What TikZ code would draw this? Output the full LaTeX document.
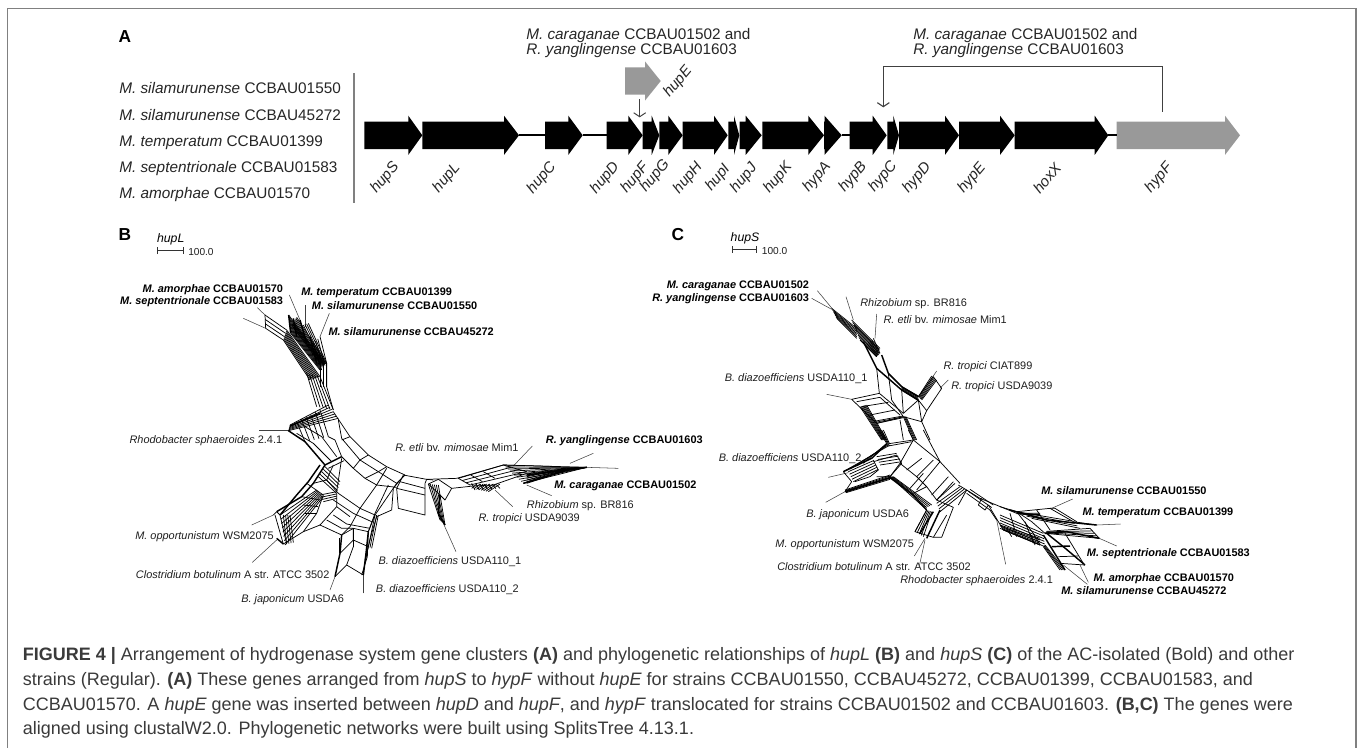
\documentclass[tikz,border=0pt]{standalone}
\usepackage{fontspec}
\setmainfont{Liberation Sans}
\usetikzlibrary{calc,arrows.meta}
\definecolor{framegray}{HTML}{808080}
\definecolor{genegray}{HTML}{999999}
\definecolor{captext}{HTML}{3A3A3A}
\definecolor{linegray}{HTML}{404040}
\tikzset{
  net/.style={line width=0.55pt,black,line join=round},
  netb/.style={line width=1.1pt,black,line join=round},
  lead/.style={line width=0.4pt,black!75},
  lab/.style={font=\fontsize{8.2}{9}\selectfont,inner sep=0pt,text=black!88,text height=5.9pt,text depth=0pt},
  bl/.style={lab,font=\fontsize{8.2}{9}\selectfont\bfseries,text=black},
  big/.style={font=\fontsize{11.5}{13}\selectfont,inner sep=0pt,text=black!85,anchor=west,text height=8.2pt,text depth=0pt},
  panel/.style={font=\fontsize{13}{14}\selectfont\bfseries,inner sep=0pt},
  genelab/.style={font=\fontsize{11.3}{13}\selectfont\itshape,inner sep=0pt,rotate=50,text=black!85},
  link/.style={line width=1.5pt,black},
  capt/.style={font=\fontsize{13.5}{15}\selectfont,inner sep=0pt,anchor=base west,text=captext},
  zoomB/.style={x=0.25pt,y=-0.25pt}
}
\newcommand\gene[6][black]{%
  \coordinate (#2-s) at (#3,#6);
  \coordinate (#2-e) at (#5,#6);
  \fill[#1] (#3,#6-13.7) -- (#4,#6-13.7) -- (#4,#6-19.6) -- (#5,#6) -- (#4,#6+19.6) -- (#4,#6+13.7) -- (#3,#6+13.7) -- cycle;
}
\newcommand\hatch[5]{\foreach \f in {0,...,#5}{\draw[net] ($#1!\f/#5!#3$) -- ($#2!\f/#5!#4$);}}
\newcommand\leader[3]{\path #2 coordinate (#1-a) #3 coordinate (#1-b); \draw[lead] (#1-a) -- (#1-b);}
\begin{document}
\begin{tikzpicture}[x=0.75pt,y=-0.75pt]
\useasboundingbox (0,0) rectangle (1360,747);
\fill[white] (0,0) rectangle (1360,747);
% frame
\draw[framegray,line width=1.1pt] (7.5,748) -- (7.5,8.5) -- (1356,8.5) -- (1356,748);
% panel A
\node[panel] (panelA) at (125,37) {A};
\foreach \n/\y/\a/\b in {s1/88/M. silamurunense/CCBAU01550,s2/115/M. silamurunense/CCBAU45272,s3/141/M. temperatum/CCBAU01399,s4/167/M. septentrionale/CCBAU01583,s5/193/M. amorphae/CCBAU01570}{
  \node[big] (\n) at (119,\y) {\textit{\a} \b};
}
\coordinate (vt) at (354,73); \coordinate (vb) at (354,203);
\draw[framegray,line width=0.8pt] (vt) -- (vb);
% genes
\def\yc{135.3}
\gene{hupS}{364.3}{408.3}{422.3}{\yc}
\gene{hupL}{422.3}{504}{519}{\yc}
\gene{hupC}{545}{568.3}{582.7}{\yc}
\gene{hupD}{606.7}{628.3}{642.7}{\yc}
\gene{hupF}{642.7}{651.7}{659.3}{\yc}
\gene{hupG}{659.3}{668.3}{682.7}{\yc}
\gene{hupH}{682.7}{714}{727.7}{\yc}
\gene{hupI}{728.3}{734}{739.3}{\yc}
\gene{hupJ}{739.7}{745.7}{761.7}{\yc}
\gene{hupK}{762.3}{808.3}{824}{\yc}
\gene{hypA}{824}{824.5}{841.7}{\yc}
\gene{hypB}{849.7}{872.7}{886.7}{\yc}
\gene{hypC}{887.3}{893.3}{899}{\yc}
\gene{hypD}{899}{945}{959}{\yc}
\gene{hypE}{959}{1000}{1014.7}{\yc}
\gene{hoxX}{1014.7}{1094.7}{1108.3}{\yc}
\gene[genegray]{hypF}{1116.7}{1225}{1240}{\yc}
\gene[genegray]{hupE}{625}{645}{660.7}{81}
\draw[link] (hupL-e) -- (hupC-s);
\draw[link] (hupC-e) -- (hupD-s);
\draw[link] (hypA-e) -- (hypB-s);
\draw[link] (hoxX-e) -- (hypF-s);
\foreach \g/\x/\y/\t in {lS/385/178/hupS,lL/446.7/178/hupL,lC/541.7/178/hupC,lD/605/178/hupD,lF/635/178/hupF,lG/655/176/hupG,lH/688/178/hupH,lI/718/178/hupI,lJ/744/178/hupJ,lK/778/178/hupK,lA/817/177/hypA,lB/853/177/hypB,lCc/883/177/hypC,lDd/917/178/hypD,lEe/972/178/hypE,lX/1047/178/hoxX,lFf/1159/178/hypF,lE/678/82/hupE}{
  \node[genelab] (\g) at (\x,\y) {\t};
}
\node[font=\fontsize{11.5}{11.7}\selectfont,inner sep=0pt,anchor=north west,align=left,text=black!85] (t1) at (526,28) {\textit{M. caraganae} CCBAU01502 and\\\textit{R. yanglingense} CCBAU01603};
\node[font=\fontsize{11.5}{11.7}\selectfont,inner sep=0pt,anchor=north west,align=left,text=black!85] (t2) at (913,28) {\textit{M. caraganae} CCBAU01502 and\\\textit{R. yanglingense} CCBAU01603};
\coordinate (ia) at (639.7,99.3); \coordinate (ib) at (639.7,117.3);
\draw[linegray,line width=0.7pt,-{Straight Barb[length=3pt,width=9pt]}] (ia) -- (ib);
\coordinate (ba) at (1162.7,111.7); \coordinate (bb) at (1162.7,66.7); \coordinate (bc) at (883.3,66.7); \coordinate (bd) at (883.3,107.3);
\draw[linegray,line width=0.8pt,-{Straight Barb[length=3pt,width=9pt]}] (ba) -- (bb) -- (bc) -- (bd);

% panel B
\node[panel] (panelB) at (125,235) {B};
\node[font=\fontsize{9.2}{10}\selectfont\itshape,inner sep=0pt] (hl) at (170.7,239) {hupL};
\coordinate (sb1) at (156.7,250.7); \coordinate (sb2) at (184,250.7);
\draw[black!80,line width=0.5pt,|-|] (sb1) -- (sb2);
\node[lab,anchor=west,font=\fontsize{7.6}{9}\selectfont] (sbt) at (188,251.5) {100.0};
\node[bl,anchor=east] (b1) at (283.3,288.7) {\textit{M. amorphae} CCBAU01570};
\node[bl,anchor=east] (b2) at (283.3,301) {\textit{M. septentrionale} CCBAU01583};
\node[bl,anchor=west] (b3) at (301,292) {\textit{M. temperatum} CCBAU01399};
\node[bl,anchor=west] (b4) at (311.7,306) {\textit{M. silamurunense} CCBAU01550};
\node[bl,anchor=west] (b5) at (328.3,332) {\textit{M. silamurunense} CCBAU45272};
\node[lab,anchor=west] (b6) at (129.3,440) {\textit{Rhodobacter sphaeroides} 2.4.1};
\node[lab,anchor=west] (b7) at (135,536) {\textit{M. opportunistum} WSM2075};
\node[lab,anchor=west] (b8) at (135.7,574.3) {\textit{Clostridium botulinum} A str. ATCC 3502};
\node[lab,anchor=west] (b9) at (241,599) {\textit{B. japonicum} USDA6};
\node[lab,anchor=west] (b10) at (375.7,589) {\textit{B. diazoefficiens} USDA110\_2};
\node[lab,anchor=west] (b11) at (378.3,560.7) {\textit{B. diazoefficiens} USDA110\_1};
\node[lab,anchor=west] (b12) at (395,448) {\textit{R. etli} bv. \textit{mimosae} Mim1};
\node[bl,anchor=west] (b13) at (545.7,440) {\textit{R. yanglingense} CCBAU01603};
\node[bl,anchor=west] (b14) at (554,485) {\textit{M. caraganae} CCBAU01502};
\node[lab,anchor=west] (b15) at (526.7,505) {\textit{Rhizobium} sp. BR816};
\node[lab,anchor=west] (b16) at (478.3,517.7) {\textit{R. tropici} USDA9039};

% network B: top (origin 100,230)
\begin{scope}[shift={(100,230)},zoomB]
\leader{la}{(568,195)}{(600,270)}
\leader{lb}{(472,233)}{(495,255)}
\leader{lc}{(430,265)}{(497,295)}
\leader{ld}{(615,225)}{(615,290)}
\leader{le}{(688,250)}{(660,320)}
\hatch{(495,255)}{(560,300)}{(497,295)}{(550,330)}{3}
\hatch{(560,300)}{(660,440)}{(550,330)}{(630,450)}{8}
\hatch{(566,255)}{(670,395)}{(572,310)}{(660,420)}{11}
\hatch{(590,262)}{(680,400)}{(575,285)}{(660,400)}{7}
\hatch{(625,280)}{(680,400)}{(610,285)}{(670,405)}{3}
\hatch{(660,320)}{(680,400)}{(640,340)}{(665,420)}{3}
\hatch{(660,440)}{(700,540)}{(620,430)}{(650,530)}{5}
\hatch{(680,400)}{(680,470)}{(660,400)}{(660,470)}{2}
\draw[netb] (566,255) -- (572,310) (580,265)--(590,320) (600,270)--(620,340) (630,320)--(650,400);
\draw[net] (495,255) -- (497,295) (680,400) -- (680,470) -- (700,540);
\end{scope}
% network B: middle (origin 120,400)
\begin{scope}[shift={(120,400)},zoomB]
\leader{lf}{(418,90)}{(510,90)}
\leader{lg}{(395,375)}{(460,345)}
\leader{lh}{(397,487)}{(470,420)}
\leader{li}{(630,570)}{(645,530)}
\leader{lj}{(730,580)}{(730,525)}
% rhodobacter wedge
\hatch{(510,75)}{(625,15)}{(505,92)}{(655,55)}{6}
\hatch{(530,65)}{(555,125)}{(600,30)}{(625,110)}{5}
\draw[netb] (510,78) -- (600,40);
\draw[netb] (505,92) -- (555,125) -- (615,195);
\draw[net] (530,100) -- (580,130) -- (635,185);
\draw[net] (555,80) -- (605,110) -- (650,170);
% outer arcs
\draw[net] (640,35) -- (690,110) -- (745,165) -- (800,200) -- (855,225);
\draw[net] (655,60) -- (665,115) -- (720,180) -- (775,215) -- (830,250);
\draw[net] (625,110) -- (645,120) -- (665,170);
\draw[net] (690,110) -- (665,120) (745,165) -- (720,180) (800,200) -- (775,215) (855,225) -- (830,250);
\draw[netb] (615,195) -- (665,170);
\draw[net] (625,205) -- (672,182);
\draw[net] (665,170) -- (700,205) -- (720,180);
\draw[net] (700,205) -- (735,235) -- (775,215);
% central lines
\draw[net] (800,205) -- (770,255) -- (720,325) -- (690,380) -- (665,405);
\draw[net] (830,250) -- (765,345) -- (745,395);
\draw[net] (735,235) -- (770,255) -- (830,262);
\draw[net] (620,240) -- (655,280) -- (720,325) -- (765,345);
\draw[net] (650,280) -- (650,320) -- (600,375) -- (665,405);
\draw[net] (640,300) -- (700,340) -- (755,365);
\draw[net] (650,320) -- (690,350);
\draw[net] (640,345) -- (680,372) -- (750,385);
\draw[net] (620,360) -- (665,385) -- (700,385) -- (745,395);
\draw[net] (665,405) -- (700,385) -- (700,420) -- (745,440);
% left lower cluster
\draw[netb] (615,195) -- (580,250) -- (545,290) -- (470,335);
\draw[netb] (600,195) -- (565,245) -- (530,285) -- (480,345);
\hatch{(615,200)}{(660,245)}{(595,230)}{(650,280)}{4}
\draw[net] (640,195) -- (620,240);
\draw[net] (665,175) -- (650,275);
\draw[net] (465,345) -- (490,432) -- (550,395) -- (600,375);
\draw[net] (470,335) -- (480,345) -- (500,432);
\draw[net] (560,250) -- (610,285) -- (590,340) -- (550,395);
\draw[net] (580,250) -- (620,240);
\hatch{(600,285)}{(650,275)}{(610,305)}{(650,295)}{3}
\hatch{(480,345)}{(590,270)}{(495,435)}{(610,290)}{7}
\hatch{(490,345)}{(500,432)}{(510,345)}{(520,428)}{3}
\hatch{(545,290)}{(600,300)}{(555,340)}{(590,340)}{2}
\draw[netb] (470,415) -- (490,432);
\draw[net] (460,345) -- (470,335);
% B. japonicum / USDA110_2 arms
\draw[netb] (665,405) -- (660,460) -- (645,530);
\draw[netb] (745,395) -- (738,460) -- (730,525);
\draw[net] (658,415) -- (658,460);
\draw[net] (660,460) -- (700,420);
\draw[net] (645,530) -- (680,495) -- (730,525);
\draw[net] (680,495) -- (700,440);
\draw[net] (700,385) -- (700,440);
\draw[net] (745,440) -- (735,490);
\hatch{(765,345)}{(745,440)}{(775,345)}{(755,445)}{2}
\end{scope}
% network B: right (origin 360,360)
\begin{scope}[shift={(360,360)},zoomB]
\leader{lk}{(288,575)}{(250,490)}
\leader{ll}{(517,258)}{(460,318)}
\leader{lm}{(700,280)}{(630,310)}
\leader{ln}{(775,325)}{(680,322)}
\leader{lo}{(575,407)}{(500,375)}
\leader{lp}{(458,440)}{(405,390)}
\draw[net] (130,345) -- (200,358) -- (290,355) -- (430,315) -- (600,320);
\draw[net] (130,345) -- (110,385) -- (115,445) -- (195,465) -- (195,370);
\draw[net] (110,385) -- (195,405);
\draw[net] (120,365) -- (195,385);
\draw[net] (200,358) -- (195,370);
\draw[net] (85,375) -- (45,460) -- (25,515) -- (22,590) -- (5,645);
\draw[net] (100,385) -- (95,450) -- (50,470) -- (35,520) -- (15,600);
\draw[net] (120,360) -- (100,385);
\hatch{(205,372)}{(240,480)}{(235,375)}{(255,495)}{5}
\draw[net] (205,372) -- (235,358) -- (275,385) -- (255,420) -- (240,405) -- (205,372);
\draw[net] (220,360) -- (200,358);
\draw[netb] (240,405) -- (235,460) -- (255,495);
\draw[net] (275,385) -- (340,378) -- (400,375) -- (500,340);
\hatch{(295,355)}{(430,315)}{(330,375)}{(500,335)}{3}
\hatch{(430,315)}{(680,322)}{(490,370)}{(680,322)}{9}
\hatch{(295,355)}{(330,375)}{(370,335)}{(405,355)}{2}
\draw[net] (430,315) -- (500,335);
\hatch{(335,370)}{(345,390)}{(410,375)}{(420,385)}{6}
\hatch{(335,385)}{(350,372)}{(385,395)}{(420,372)}{7}
\hatch{(500,340)}{(630,325)}{(500,370)}{(640,325)}{6}
\draw[netb] (500,345) -- (680,322);
\draw[netb] (490,370) -- (640,325);
\end{scope}

% panel C
\node[panel] (panelC) at (678,235) {C};
\node[font=\fontsize{9.2}{10}\selectfont\itshape,inner sep=0pt] (hs) at (745,238) {hupS};
\coordinate (sc1) at (732.3,249.3); \coordinate (sc2) at (756.7,249.3);
\draw[black!80,line width=0.5pt,|-|] (sc1) -- (sc2);
\node[lab,anchor=west,font=\fontsize{7.6}{9}\selectfont] (sct) at (761.7,250.5) {100.0};
\node[bl,anchor=east] (c1) at (809.3,285) {\textit{M. caraganae} CCBAU01502};
\node[bl,anchor=east] (c2) at (809.3,298) {\textit{R. yanglingense} CCBAU01603};
\node[lab,anchor=west] (c3) at (860,302.7) {\textit{Rhizobium} sp. BR816};
\node[lab,anchor=west] (c4) at (883.3,319.3) {\textit{R. etli} bv. \textit{mimosae} Mim1};
\node[lab,anchor=west] (c5) at (943.3,365.3) {\textit{R. tropici} CIAT899};
\node[lab,anchor=west] (c6) at (951,385.3) {\textit{R. tropici} USDA9039};
\node[lab,anchor=east] (c7) at (867.7,377.3) {\textit{B. diazoefficiens} USDA110\_1};
\node[lab,anchor=east] (c8) at (861.7,457.3) {\textit{B. diazoefficiens} USDA110\_2};
\node[lab,anchor=east] (c9) at (909.3,513.3) {\textit{B. japonicum} USDA6};
\node[lab,anchor=east] (c10) at (914.3,544) {\textit{M. opportunistum} WSM2075};
\node[lab,anchor=east] (c11) at (971,566.7) {\textit{Clostridium botulinum} A str. ATCC 3502};
\node[lab,anchor=west] (c12) at (900,579.3) {\textit{Rhodobacter sphaeroides} 2.4.1};
\node[bl,anchor=west] (c13) at (1041,490.3) {\textit{M. silamurunense} CCBAU01550};
\node[bl,anchor=west] (c14) at (1082.3,511.3) {\textit{M. temperatum} CCBAU01399};
\node[bl,anchor=west] (c15) at (1086.7,553) {\textit{M. septentrionale} CCBAU01583};
\node[bl,anchor=west] (c16) at (1093.3,577.7) {\textit{M. amorphae} CCBAU01570};
\node[bl,anchor=west] (c17) at (1061,591) {\textit{M. silamurunense} CCBAU45272};

% network C: top (origin 700,240)
\begin{scope}[shift={(700,240)},zoomB]
\leader{ma}{(352,152)}{(400,210)}
\leader{mb}{(335,175)}{(395,208)}
\leader{mc}{(438,170)}{(460,240)}
\leader{md}{(530,222)}{(525,295)}
\leader{me}{(710,393)}{(695,415)}
\leader{mf}{(745,420)}{(720,445)}
\leader{mg}{(380,463)}{(455,478)}
\hatch{(395,205)}{(470,265)}{(410,235)}{(470,295)}{6}
\hatch{(455,240)}{(540,325)}{(480,300)}{(530,350)}{8}
\hatch{(520,295)}{(540,340)}{(495,315)}{(530,350)}{5}
\draw[netb] (490,305) -- (530,385) -- (605,450) -- (655,480);
\draw[netb] (545,345) -- (565,400) -- (605,440) -- (655,470);
\hatch{(605,440)}{(655,468)}{(605,450)}{(655,482)}{4}
\hatch{(655,470)}{(695,408)}{(665,480)}{(710,420)}{5}
\draw[net] (655,470) -- (700,410) -- (725,445) -- (680,512) -- (655,480);
\draw[net] (530,385) -- (538,460) -- (455,478) -- (530,550) -- (610,530) -- (575,480) -- (565,400);
\draw[net] (538,460) -- (610,520) -- (655,480);
\draw[net] (470,485) -- (540,472) -- (600,525);
\draw[net] (485,500) -- (565,487);
\draw[net] (510,525) -- (585,510);
\draw[net] (655,480) -- (665,545) -- (610,530);
\draw[net] (680,512) -- (665,545) -- (690,600);
\draw[net] (605,450) -- (610,520);
\hatch{(530,550)}{(610,533)}{(527,543)}{(608,528)}{2}
\hatch{(610,530)}{(640,600)}{(618,530)}{(650,600)}{3}
\draw[net] (600,540) -- (610,600);
\hatch{(480,500)}{(545,600)}{(500,495)}{(560,600)}{6}
\end{scope}
% network C: middle/bottom (origin 740,430)
\begin{scope}[shift={(740,430)},zoomB]
\leader{na}{(265,142)}{(325,128)}
\leader{nb}{(257,217)}{(315,185)}
\leader{nc}{(523,378)}{(555,325)}
\leader{nd}{(537,412)}{(555,330)}
\leader{ne}{(797,403)}{(770,270)}
\hatch{(415,0)}{(440,40)}{(430,0)}{(448,40)}{3}
\draw[net] (505,0) -- (520,30) -- (600,95) -- (660,160);
\draw[net] (550,0) -- (600,95);
\draw[net] (440,42) -- (520,30);
\draw[net] (445,48) -- (515,35);
\hatch{(440,40)}{(370,100)}{(450,45)}{(310,125)}{3}
\draw[netb] (440,42) -- (395,85) -- (310,125);
\draw[net] (310,125) -- (335,155) -- (315,185);
\hatch{(325,125)}{(400,92)}{(340,155)}{(415,118)}{4}
\draw[net] (400,90) -- (415,120) -- (390,140) -- (345,155);
\draw[net] (400,95) -- (470,75) -- (485,100) -- (450,140) -- (410,140);
\hatch{(410,80)}{(470,70)}{(420,105)}{(485,95)}{3}
\draw[netb] (315,185) -- (450,143) -- (520,195) -- (560,240);
\hatch{(315,180)}{(450,135)}{(318,188)}{(450,148)}{4}
\hatch{(450,140)}{(555,235)}{(460,140)}{(575,225)}{4}
\draw[net] (520,30) -- (480,100) -- (450,140);
\draw[net] (480,100) -- (530,140) -- (580,90);
\draw[net] (530,140) -- (560,170) -- (520,190);
\draw[net] (500,120) -- (545,85);
\draw[net] (510,175) -- (550,130);
\draw[net] (560,170) -- (590,210) -- (640,155);
\draw[net] (600,95) -- (530,180);
\draw[net] (645,160) -- (590,210);
\draw[net] (625,140) -- (575,195);
\hatch{(560,240)}{(525,305)}{(575,245)}{(550,320)}{4}
\draw[net] (560,240) -- (525,305) -- (580,322) -- (620,255);
\draw[netb] (600,240) -- (560,325);
\draw[netb] (580,245) -- (540,310);
\draw[net] (590,210) -- (640,232) -- (605,322) -- (580,322);
\hatch{(590,220)}{(660,170)}{(600,245)}{(680,180)}{3}
\draw[net] (655,165) -- (680,180) -- (720,205) -- (830,250) -- (900,250);
\draw[net] (680,180) -- (655,225);
\draw[net] (725,205) -- (715,225) -- (735,240) -- (745,225);
\hatch{(680,190)}{(750,240)}{(690,178)}{(760,225)}{2}
\draw[net] (745,225) -- (790,300) -- (900,345);
\draw[net] (750,240) -- (770,270);
\hatch{(780,285)}{(900,325)}{(790,300)}{(900,345)}{4}
\draw[net] (830,245) -- (880,310) -- (900,345);
\draw[net] (800,295) -- (815,320);
\draw[net] (870,310) -- (885,345);
\draw[netb] (830,250) -- (900,255);
\end{scope}
% network C: cluster (origin 1000,450)
\begin{scope}[shift={(1000,450)},zoomB]
\leader{oa}{(218,147)}{(155,175)}
\leader{ob}{(362,222)}{(290,225)}
\leader{oc}{(350,288)}{(298,265)}
\leader{od}{(265,397)}{(240,345)}
\leader{oe}{(262,403)}{(190,345)}
\draw[net] (0,170) -- (50,185) -- (150,175) -- (220,215) -- (290,225);
\draw[netb] (30,180) -- (140,210) -- (290,225);
\draw[net] (150,175) -- (165,175) -- (230,215);
\hatch{(50,185)}{(215,213)}{(95,205)}{(240,235)}{3}
\draw[net] (50,185) -- (95,215) -- (135,250);
\draw[net] (110,180) -- (150,240);
\hatch{(135,250)}{(298,265)}{(140,244)}{(270,235)}{4}
\draw[netb] (135,250) -- (200,245) -- (298,265);
\draw[net] (270,235) -- (298,265);
\draw[netb] (140,250) -- (190,290) -- (255,345);
\draw[netb] (130,255) -- (195,360);
\draw[net] (195,250) -- (250,340);
\draw[netb] (155,290) -- (210,288);
\draw[net] (180,340) -- (255,345);
\draw[net] (175,320) -- (235,318);
\hatch{(0,195)}{(130,250)}{(0,235)}{(135,290)}{5}
\draw[net] (30,190) -- (50,260);
\draw[net] (75,215) -- (100,280);
\hatch{(130,290)}{(180,360)}{(135,285)}{(195,360)}{3}
\end{scope}

% caption
\node[capt] (cap1) at (22.5,660.5) {\textbf{FIGURE 4 |} Arrangement of hydrogenase system gene clusters \textbf{(A)} and phylogenetic relationships of \textit{hupL} \textbf{(B)} and \textit{hupS} \textbf{(C)} of the AC-isolated (Bold) and other};
\node[capt] (cap2) at (22.5,685.5) {strains (Regular). \textbf{(A)} These genes arranged from \textit{hupS} to \textit{hypF} without \textit{hupE} for strains CCBAU01550, CCBAU45272, CCBAU01399, CCBAU01583, and};
\node[capt] (cap3) at (22.5,710.5) {CCBAU01570. A \textit{hupE} gene was inserted between \textit{hupD} and \textit{hupF}, and \textit{hypF} translocated for strains CCBAU01502 and CCBAU01603. \textbf{(B,C)} The genes were};
\node[capt] (cap4) at (22.5,734.7) {aligned using clustalW2.0. Phylogenetic networks were built using SplitsTree 4.13.1.};
\end{tikzpicture}
\end{document}
